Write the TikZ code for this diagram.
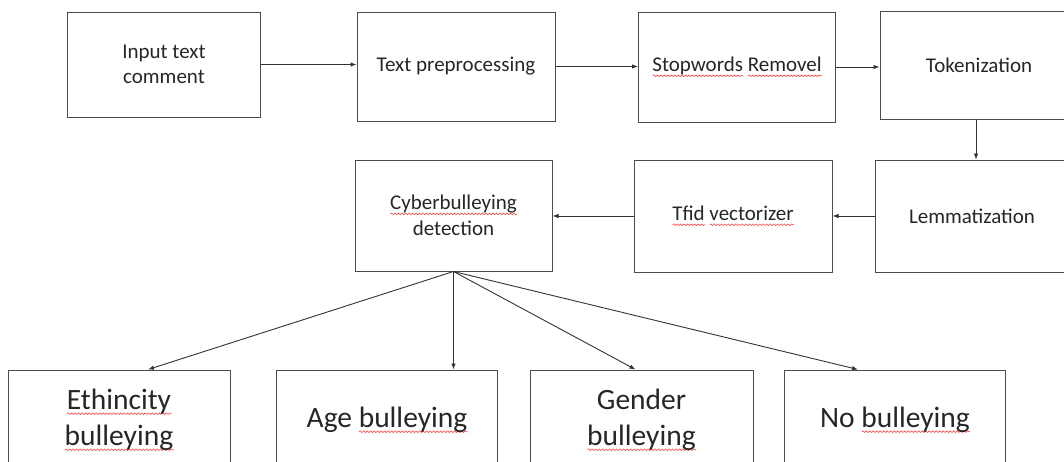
\documentclass[tikz,border=0pt]{standalone}
\usepackage{fontspec}
\setmainfont{Carlito}
\usetikzlibrary{arrows.meta,decorations.pathmorphing}
\newdimen\sqw
% red wavy spell-check line under a word
\newcommand\sq[1]{\leavevmode\setbox0\hbox{#1}\sqw=\wd0\relax
  \rlap{\tikz[baseline=0pt,x=1pt,y=1pt]\draw[red!75,line width=0.6pt,
    decorate,decoration={snake,segment length=3.5pt,amplitude=0.8pt}]
    (0,-4) -- (\sqw,-4);}\box0\relax}

\begin{document}
\begin{tikzpicture}[x=1pt,y=-1pt,
  box/.style={draw=black!70,line width=1pt,inner sep=0pt,align=center,
    text=black!85,font=\fontsize{21}{25.6}\selectfont},
  bigbox/.style={box,font=\fontsize{29.5}{36}\selectfont},
  flow/.style={-{Latex[length=6pt,width=4.5pt]},line width=0.9pt,black!80}]
  \useasboundingbox (0,0) rectangle (1064,461);

  % top row
  \node[box,minimum width=193pt,minimum height=105pt] (inp) at (164,64.5) {Input text\\comment};
  \node[box,minimum width=198pt,minimum height=109pt] (prep) at (456,66.5) {Text preprocessing};
  \node[box,minimum width=197pt,minimum height=110pt] (stop) at (737,67) {\sq{Stopwords} \sq{Removel}};
  \node[box,minimum width=198pt,minimum height=108pt] (tok) at (979,65) {Tokenization};

  % second row, right to left
  \node[box,minimum width=194pt,minimum height=112pt] (lem) at (972,216) {Lemmatization};
  \node[box,minimum width=198pt,minimum height=112pt] (tfid) at (733,216) {\sq{Tfid} \sq{vectorizer}};
  \node[box,minimum width=197pt,minimum height=111pt] (cyb) at (453.5,215.5) {\sq{Cyberbulleying}\\detection};

  % classes
  \node[bigbox,minimum width=222pt,minimum height=100pt] (eth) at (119,420) {\sq{Ethincity}\\\sq{bulleying}};
  \node[bigbox,minimum width=221pt,minimum height=100pt] (age) at (387,420) {Age \sq{bulleying}};
  \node[bigbox,minimum width=223pt,minimum height=100pt] (gen) at (641.5,420) {Gender\\\sq{bulleying}};
  \node[bigbox,minimum width=221pt,minimum height=100pt] (nob) at (895,420) {No \sq{bulleying}};

  % pipeline
  \draw[flow] (inp.east) -- (inp.east -| prep.west);
  \draw[flow] (prep.east) -- (prep.east -| stop.west);
  \draw[flow] (stop.east) -- (stop.east -| tok.west);
  \draw[flow] ([xshift=-3pt]tok.south) -- ([xshift=-3pt]tok.south |- lem.north);
  \draw[flow] (lem.west) -- (lem.west -| tfid.east);
  \draw[flow] (tfid.west) -- (tfid.west -| cyb.east);

  % fan out
  \draw[flow] (cyb.south) -- ([xshift=29pt]eth.north);
  \draw[flow] (cyb.south) -- (cyb.south |- age.north);
  \draw[flow] (cyb.south) -- ([xshift=-6pt]gen.north);
  \draw[flow] (cyb.south) -- ([xshift=-37pt]nob.north);
\end{tikzpicture}
\end{document}
